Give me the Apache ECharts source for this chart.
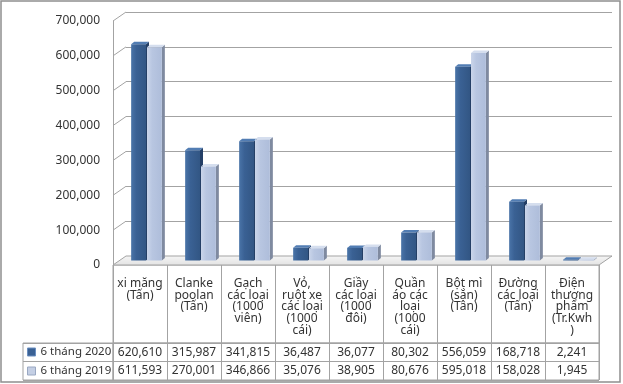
<!DOCTYPE html>
<html><head><meta charset="utf-8">
<script src="https://cdn.jsdelivr.net/npm/echarts@6/dist/echarts.min.js"></script>
<style>html,body{margin:0;padding:0;background:#fff}#c{width:623px;height:384px}</style>
</head><body><div id="c"></div>
<script>
// ---- data ----
const categories = [
  'xi măng\n(Tấn)',
  'Clanke\npoolan\n(Tấn)',
  'Gạch\ncác loại\n(1000\nviên)',
  'Vỏ,\nruột xe\ncác loại\n(1000\ncái)',
  'Giầy\ncác loại\n(1000\nđôi)',
  'Quần\náo các\nloại\n(1000\ncái)',
  'Bột mì\n(sắn)\n(Tân)',
  'Đường\ncác loại\n(Tấn)',
  'Điện\nthương\nphẩm\n(Tr.Kwh\n)'
];
const seriesNames = ['6 tháng 2020', '6 tháng 2019'];
const values2020 = [620610, 315987, 341815, 36487, 36077, 80302, 556059, 168718, 2241];
const values2019 = [611593, 270001, 346866, 35076, 38905, 80676, 595018, 158028, 1945];
const yTicks = [0, 100000, 200000, 300000, 400000, 500000, 600000, 700000];

// ---- helpers ----
const fmt = v => String(v).replace(/\B(?=(\d{3})+(?!\d))/g, ',');
const DX = 13, DY = -9;           // 3D depth offset of the back wall
const FONT = 'Noto Sans';
const TXT = '#333333';
const LINE = '#a3a3a3';

const colors = [
  { front: ['#4a74a8', '#3a6194', '#325684'], side: '#243f66', top: '#527db3' },
  { front: ['#cad5ea', '#b8c6e1', '#aebdda'], side: '#7f8aa0', top: '#d5deee' }
];

function barRenderer(sIdx) {
  return function (params, api) {
    const i = api.value(0), v = api.value(1);
    const base = api.coord([i, 0]);
    const top = api.coord([i, v]);
    const band = api.size([1, 0])[0];
    const bw = band * 0.275;
    const cx = base[0] + DX / 2;
    const x0 = sIdx === 0 ? cx - bw - 0.5 : cx + 0.5;
    const yb = base[1] + DY / 2;
    const yt = Math.min(top[1] + DY / 2, yb - 0.8);
    const sx = 3, sy = -2.5;
    const c = colors[sIdx];
    return {
      type: 'group',
      children: [
        { type: 'polygon', shape: { points: [[x0 + bw, yt], [x0 + bw + sx, yt + sy], [x0 + bw + sx, yb + sy], [x0 + bw, yb]] },
          style: { fill: c.side } },
        { type: 'polygon', shape: { points: [[x0, yt], [x0 + sx, yt + sy], [x0 + bw + sx, yt + sy], [x0 + bw, yt]] },
          style: { fill: c.top } },
        { type: 'rect', shape: { x: x0, y: yt, width: bw, height: yb - yt },
          style: { fill: new echarts.graphic.LinearGradient(0, 0, 1, 0, [
            { offset: 0, color: c.front[0] }, { offset: 0.35, color: c.front[1] }, { offset: 1, color: c.front[2] }]) } }
      ]
    };
  };
}

function renderWalls(params, api) {
  const cs = params.coordSys;
  const L = cs.x, R = cs.x + cs.width;
  const y0 = api.coord([0, 0])[1];
  const children = [{
    type: 'polygon',
    shape: { points: [[L, y0], [R, y0], [R + DX, y0 + DY], [L + DX, y0 + DY]] },
    style: { fill: new echarts.graphic.LinearGradient(0, 0, 0, 1, [
      { offset: 0, color: '#f6f6f6' }, { offset: 1, color: '#e2e2e2' }]), stroke: LINE, lineWidth: 1 }
  }];
  yTicks.forEach(t => {
    if (t === 0) return;
    const y = api.coord([0, t])[1];
    children.push({ type: 'line', shape: { x1: L, y1: y, x2: L + DX, y2: y + DY }, style: { stroke: LINE, lineWidth: 1 } });
  });
  return { type: 'group', children };
}

const chart = echarts.init(document.getElementById('c'), null, { renderer: 'canvas' });
const hidden = { show: false };
chart.setOption({
  animation: false,
  textStyle: { fontFamily: FONT },
  graphic: [{ type: 'rect', shape: { x: 1, y: 1, width: 619, height: 381 }, style: { fill: 'none', stroke: '#8f8f8f', lineWidth: 1.5 }, silent: true }],
  legend: {
    orient: 'vertical', left: 27, top: 345, padding: 0,
    itemWidth: 8, itemHeight: 8, itemGap: 5, selectedMode: false,
    textStyle: { fontFamily: FONT, fontSize: 11.5, color: TXT, lineHeight: 14 },
    data: [
      { name: seriesNames[0], icon: 'rect', itemStyle: { color: '#3a6194', borderColor: '#6b8fc0', borderWidth: 1 } },
      { name: seriesNames[1], icon: 'rect', itemStyle: { color: '#c4cfe4', borderColor: '#9aa8c2', borderWidth: 1 } }
    ]
  },
  grid: [
    { left: 113, right: 24, top: 21, bottom: 119 },                     // 0 front plane
    { left: 113 + DX, right: 24 - DX, top: 21 + DY, bottom: 119 - DY }, // 1 back wall
    { left: 113, right: 24, top: 265, height: 78, show: true, borderColor: LINE, borderWidth: 1 }, // 2 header
    { left: 113, right: 24, top: 343, height: 37, show: true, borderColor: LINE, borderWidth: 1 }, // 3 values
    { left: 23, width: 90, top: 343, height: 37, show: true, borderColor: LINE, borderWidth: 1 }   // 4 row labels
  ],
  xAxis: [
    { gridIndex: 0, type: 'category', data: categories, axisLine: hidden, axisTick: hidden, axisLabel: hidden },
    { gridIndex: 1, type: 'category', data: categories, show: false },
    { gridIndex: 2, type: 'category', data: categories, position: 'top', axisLine: hidden, axisTick: hidden,
      splitLine: { show: true, lineStyle: { color: LINE, width: 1 } },
      axisLabel: { inside: true, interval: 0, verticalAlign: 'top', margin: 7, padding: [6, 0, 0, 0],
        formatter: s => s.split('\n').map(l => '{h|' + l + '}').join('\n'),
        rich: { h: { fontSize: 12, lineHeight: 11.6, color: TXT, fontFamily: FONT } } } },
    { gridIndex: 3, type: 'category', data: values2020.map(fmt), position: 'top', axisLine: hidden, axisTick: hidden,
      splitLine: { show: true, lineStyle: { color: LINE, width: 1 } },
      axisLabel: { inside: true, interval: 0, verticalAlign: 'middle', margin: 9.5, fontSize: 12, color: TXT, fontFamily: FONT } },
    { gridIndex: 3, type: 'category', data: values2019.map(fmt), position: 'bottom', axisLine: hidden, axisTick: hidden,
      axisLabel: { inside: true, interval: 0, verticalAlign: 'middle', margin: 9, fontSize: 12, color: TXT, fontFamily: FONT } },
    { gridIndex: 4, type: 'value', show: false }
  ],
  yAxis: [
    { gridIndex: 0, type: 'value', min: 0, max: 700000, interval: 100000,
      axisLine: { show: true, lineStyle: { color: LINE, width: 1 } }, axisTick: hidden, splitLine: hidden,
      axisLabel: { formatter: v => fmt(v), margin: 13, fontSize: 12, color: TXT, fontFamily: FONT } },
    { gridIndex: 1, type: 'value', min: 0, max: 700000, interval: 100000,
      axisLine: hidden, axisTick: hidden, axisLabel: hidden,
      splitLine: { show: true, lineStyle: { color: LINE, width: 1 } } },
    { gridIndex: 2, type: 'value', show: false },
    { gridIndex: 3, type: 'category', data: seriesNames, inverse: true, axisLine: hidden, axisTick: hidden, axisLabel: hidden,
      splitLine: { show: true, lineStyle: { color: LINE, width: 1 } } },
    { gridIndex: 4, type: 'category', data: seriesNames, inverse: true, axisLine: hidden, axisTick: hidden, axisLabel: hidden,
      splitLine: { show: true, lineStyle: { color: LINE, width: 1 } } }
  ],
  series: [
    { type: 'custom', name: 'walls', xAxisIndex: 0, yAxisIndex: 0, z: 1, silent: true,
      renderItem: renderWalls, data: [[0, 0]] },
    { type: 'custom', name: seriesNames[0], xAxisIndex: 0, yAxisIndex: 0, z: 3,
      itemStyle: { color: '#3a6194' }, renderItem: barRenderer(0), data: values2020.map((v, i) => [i, v]) },
    { type: 'custom', name: seriesNames[1], xAxisIndex: 0, yAxisIndex: 0, z: 4,
      itemStyle: { color: '#c4cfe4' }, renderItem: barRenderer(1), data: values2019.map((v, i) => [i, v]) }
  ]
});
</script></body></html>
